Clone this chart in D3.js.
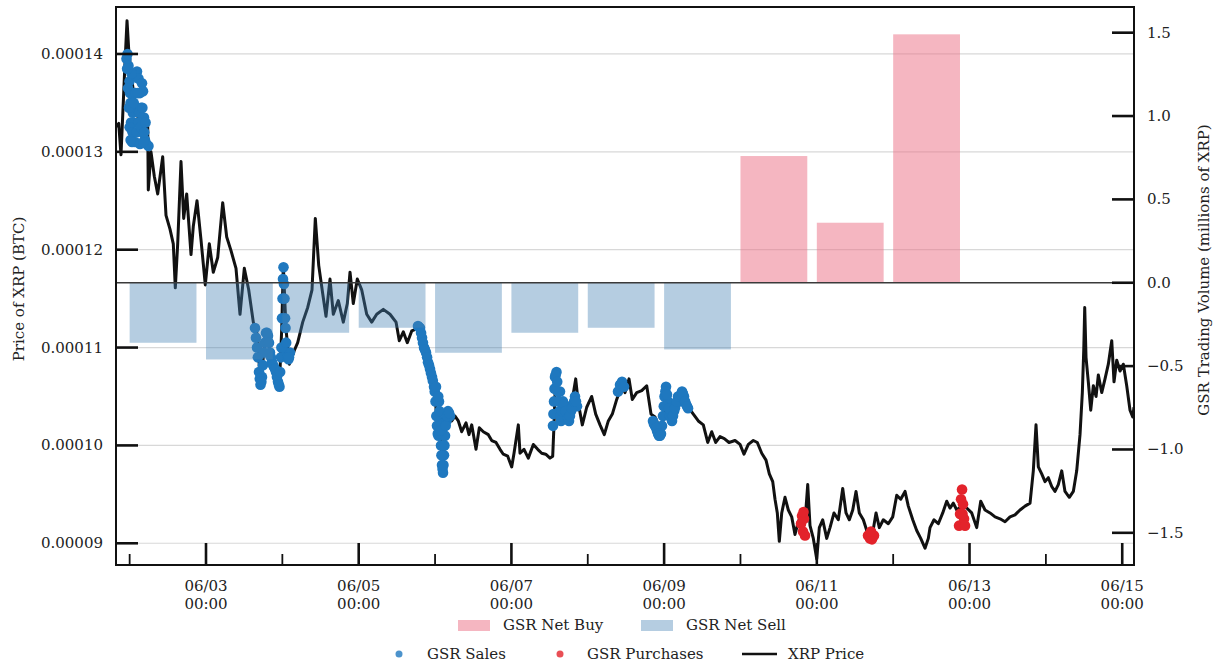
<!DOCTYPE html>
<html><head><meta charset="utf-8">
<script src="https://cdn.jsdelivr.net/npm/d3@7"></script>
<style>
body{margin:0;background:#fff}
svg{display:block}
text{font-family:"DejaVu Serif",serif;fill:#222}
</style>
</head><body>
<svg id="chart" width="1214" height="664"></svg>
<script>
// ---------- DATA ----------
// time base: hours since 2018-06-01 00:00 UTC
const priceHours = [19.71,20.56,21.28,21.82,22.54,23.17,23.70,24.43,25.46,26.53,27.57,28.61,29.67,29.86,30.71,31.75,32.82,34.39,35.43,36.68,37.72,38.35,39.10,40.14,40.99,41.93,43.29,44.01,45.17,46.43,47.78,49.04,50.29,51.68,53.25,54.51,55.86,57.43,58.69,60.04,61.42,62.87,64.25,65.07,66.86,68.12,69.78,71.04,71.80,72.30,73.15,74.18,75.76,76.82,78.40,79.97,81.32,82.36,83.43,84.69,85.72,86.98,88.02,89.59,91.16,92.42,93.27,94.30,95.56,96.94,98.52,100.09,101.66,103.73,105.84,107.73,108.76,110.02,111.28,112.66,114.23,115.27,116.84,117.88,118.95,119.98,120.71,121.56,122.40,123.13,124.17,125.23,126.27,127.31,128.38,129.73,130.67,131.52,132.87,133.91,135.17,136.74,137.81,139.16,140.42,141.45,142.84,144.09,144.82,146.17,146.70,147.96,149.31,150.89,152.27,153.52,154.78,156.13,156.98,157.39,157.92,158.55,159.27,160.63,161.88,162.95,164.21,165.03,166.29,167.67,169.24,170.50,171.85,173.20,174.46,175.72,177.10,178.67,179.71,180.97,182.00,183.39,184.96,186.53,187.88,189.14,190.17,191.24,192.81,193.85,195.42,196.68,198.35,199.61,201.18,202.75,204.32,205.71,206.96,208.22,209.57,210.92,212.40,214.29,215.86,217.11,218.47,220.04,221.30,222.68,224.03,225.07,226.14,226.86,227.58,228.21,228.97,230.00,231.04,232.11,233.14,234.18,235.25,236.29,237.14,237.86,238.90,239.97,240.79,241.85,243.11,244.15,245.40,246.76,248.14,249.18,250.22,251.29,252.32,253.36,254.62,255.69,257.26,258.61,259.65,260.90,262.48,263.86,265.12,266.37,267.73,268.76,270.15,271.40,272.66,274.01,275.05,275.58,276.84,278.19,279.58,280.83,281.87,282.91,283.98,285.55,287.12,288.69,290.26,291.52,292.87,294.44,296.02,297.59,299.16,300.73,302.30,303.87,305.45,307.02,308.05,308.90,309.63,310.69,311.73,312.77,313.84,314.87,315.91,316.98,318.01,319.37,320.63,321.69,322.73,323.46,323.90,324.21,324.62,325.34,326.10,326.92,327.77,328.49,329.56,330.59,331.63,332.70,333.42,334.27,335.31,336.35,337.41,338.45,339.30,339.70];
const priceValues = [1.326e-4,1.329e-4,1.297e-4,1.337e-4,1.391e-4,1.434e-4,1.405e-4,1.380e-4,1.355e-4,1.337e-4,1.318e-4,1.308e-4,1.329e-4,1.261e-4,1.300e-4,1.275e-4,1.257e-4,1.295e-4,1.235e-4,1.221e-4,1.206e-4,1.161e-4,1.206e-4,1.290e-4,1.232e-4,1.257e-4,1.195e-4,1.224e-4,1.250e-4,1.210e-4,1.164e-4,1.206e-4,1.177e-4,1.192e-4,1.248e-4,1.213e-4,1.199e-4,1.181e-4,1.134e-4,1.181e-4,1.159e-4,1.126e-4,1.112e-4,1.061e-4,1.116e-4,1.097e-4,1.083e-4,1.059e-4,1.119e-4,1.184e-4,1.119e-4,1.083e-4,1.097e-4,1.105e-4,1.126e-4,1.141e-4,1.159e-4,1.232e-4,1.184e-4,1.155e-4,1.132e-4,1.170e-4,1.134e-4,1.148e-4,1.126e-4,1.145e-4,1.177e-4,1.145e-4,1.170e-4,1.159e-4,1.134e-4,1.126e-4,1.134e-4,1.139e-4,1.134e-4,1.126e-4,1.107e-4,1.116e-4,1.105e-4,1.117e-4,1.119e-4,1.121e-4,1.097e-4,1.083e-4,1.072e-4,1.058e-4,1.011e-4,1.029e-4,0.971e-4,1.011e-4,1.036e-4,1.025e-4,1.030e-4,1.025e-4,1.014e-4,1.023e-4,1.011e-4,1.021e-4,0.996e-4,1.018e-4,1.014e-4,1.011e-4,1.005e-4,1.003e-4,0.996e-4,0.991e-4,0.989e-4,0.978e-4,0.992e-4,1.021e-4,0.992e-4,0.996e-4,0.987e-4,1.001e-4,0.996e-4,0.992e-4,0.991e-4,0.987e-4,0.989e-4,1.021e-4,1.072e-4,1.061e-4,1.039e-4,1.047e-4,1.029e-4,1.043e-4,1.068e-4,1.043e-4,1.021e-4,1.039e-4,1.050e-4,1.032e-4,1.021e-4,1.011e-4,1.025e-4,1.032e-4,1.047e-4,1.061e-4,1.054e-4,1.068e-4,1.047e-4,1.054e-4,1.056e-4,1.061e-4,1.032e-4,1.029e-4,1.021e-4,1.014e-4,1.058e-4,1.032e-4,1.039e-4,1.050e-4,1.054e-4,1.039e-4,1.032e-4,1.025e-4,1.021e-4,1.003e-4,1.014e-4,1.003e-4,1.009e-4,1.007e-4,1.003e-4,1.005e-4,1.001e-4,0.991e-4,1.001e-4,1.005e-4,1.003e-4,0.992e-4,0.985e-4,0.971e-4,0.963e-4,0.945e-4,0.931e-4,0.902e-4,0.931e-4,0.947e-4,0.934e-4,0.927e-4,0.909e-4,0.922e-4,0.931e-4,0.922e-4,0.960e-4,0.918e-4,0.905e-4,0.884e-4,0.916e-4,0.924e-4,0.905e-4,0.916e-4,0.931e-4,0.924e-4,0.956e-4,0.931e-4,0.924e-4,0.934e-4,0.953e-4,0.931e-4,0.924e-4,0.913e-4,0.905e-4,0.931e-4,0.916e-4,0.924e-4,0.920e-4,0.927e-4,0.949e-4,0.945e-4,0.953e-4,0.938e-4,0.924e-4,0.913e-4,0.905e-4,0.895e-4,0.905e-4,0.916e-4,0.924e-4,0.920e-4,0.931e-4,0.943e-4,0.936e-4,0.941e-4,0.934e-4,0.938e-4,0.936e-4,0.931e-4,0.916e-4,0.943e-4,0.934e-4,0.931e-4,0.927e-4,0.925e-4,0.922e-4,0.927e-4,0.929e-4,0.934e-4,0.938e-4,0.941e-4,0.974e-4,1.021e-4,0.978e-4,0.971e-4,0.963e-4,0.967e-4,0.958e-4,0.953e-4,0.960e-4,0.974e-4,0.953e-4,0.947e-4,0.953e-4,0.974e-4,1.011e-4,1.054e-4,1.097e-4,1.141e-4,1.090e-4,1.065e-4,1.036e-4,1.061e-4,1.050e-4,1.072e-4,1.054e-4,1.068e-4,1.083e-4,1.107e-4,1.065e-4,1.087e-4,1.076e-4,1.083e-4,1.061e-4,1.036e-4,1.029e-4,1.039e-4];

const salesHours = [23.01,23.32,23.64,23.95,24.27,24.43,24.74,25.21,25.53,25.84,26.31,26.78,27.25,27.57,27.88,28.20,28.51,28.82,29.30,29.92,25.68,27.25,24.10,25.00,26.00,26.80,27.90,28.30,24.60,
 23.20,23.50,23.80,24.00,24.30,24.90,25.30,25.90,26.20,26.60,27.00,27.40,28.00,28.60,29.00,
 63.40,64.03,64.66,65.13,65.60,66.23,66.86,67.49,68.12,68.75,69.38,70.00,70.63,71.10,71.57,71.89,72.20,72.36,72.68,72.99,73.46,73.93,74.40,
 63.70,64.30,64.90,65.40,65.90,66.50,67.20,67.80,68.40,69.10,69.70,70.30,70.90,71.30,71.70,72.05,72.50,72.85,73.20,73.70,74.10,
 114.64,115.27,115.90,116.53,117.16,117.78,118.41,119.04,119.67,120.14,120.61,121.08,121.56,121.87,122.18,122.50,122.81,123.13,123.60,124.07,124.70,121.24,
 114.90,115.60,116.20,116.80,117.50,118.10,118.70,119.30,119.90,120.40,120.85,121.40,121.70,122.00,122.35,122.65,122.95,123.35,123.80,124.40,121.00,120.30,
 157.07,157.39,157.70,158.17,158.65,159.12,159.59,160.22,160.85,161.48,162.11,162.74,163.37,163.99,164.62,159.27,
 157.20,157.55,157.90,158.40,158.90,159.40,159.90,160.50,161.10,161.80,162.40,163.00,163.70,164.30,
 177.51,178.14,178.77,179.40,
 188.51,189.14,189.77,190.39,191.02,191.65,192.13,192.60,193.23,193.85,194.48,195.11,195.74,196.37,197.00,197.63,198.25,198.88,199.51,191.33,
 188.80,189.50,190.10,190.70,191.90,192.40,192.90,193.50,194.20,194.80,195.40,196.00,196.70,197.30,197.90,198.60,199.20];
const salesPrices = [1.395e-4,1.400e-4,1.388e-4,1.372e-4,1.350e-4,1.330e-4,1.310e-4,1.330e-4,1.360e-4,1.378e-4,1.382e-4,1.375e-4,1.360e-4,1.345e-4,1.370e-4,1.362e-4,1.335e-4,1.312e-4,1.308e-4,1.306e-4,1.310e-4,1.308e-4,1.360e-4,1.340e-4,1.345e-4,1.330e-4,1.320e-4,1.310e-4,1.380e-4,
 1.385e-4,1.365e-4,1.345e-4,1.325e-4,1.312e-4,1.320e-4,1.350e-4,1.360e-4,1.320e-4,1.360e-4,1.340e-4,1.325e-4,1.345e-4,1.320e-4,1.330e-4,
 1.120e-4,1.100e-4,1.075e-4,1.062e-4,1.070e-4,1.095e-4,1.115e-4,1.112e-4,1.095e-4,1.085e-4,1.080e-4,1.075e-4,1.065e-4,1.060e-4,1.090e-4,1.130e-4,1.170e-4,1.182e-4,1.150e-4,1.120e-4,1.095e-4,1.088e-4,1.095e-4,
 1.110e-4,1.090e-4,1.068e-4,1.065e-4,1.082e-4,1.105e-4,1.115e-4,1.105e-4,1.090e-4,1.082e-4,1.078e-4,1.070e-4,1.062e-4,1.075e-4,1.100e-4,1.150e-4,1.165e-4,1.130e-4,1.105e-4,1.090e-4,1.090e-4,
 1.122e-4,1.120e-4,1.110e-4,1.100e-4,1.095e-4,1.085e-4,1.078e-4,1.070e-4,1.060e-4,1.045e-4,1.020e-4,1.010e-4,1.025e-4,1.000e-4,0.980e-4,0.972e-4,0.990e-4,1.010e-4,1.025e-4,1.035e-4,1.030e-4,1.045e-4,
 1.121e-4,1.115e-4,1.105e-4,1.098e-4,1.090e-4,1.082e-4,1.074e-4,1.066e-4,1.055e-4,1.030e-4,1.012e-4,1.035e-4,1.015e-4,0.990e-4,0.976e-4,0.980e-4,1.000e-4,1.020e-4,1.030e-4,1.033e-4,1.050e-4,1.060e-4,
 1.020e-4,1.045e-4,1.070e-4,1.075e-4,1.055e-4,1.035e-4,1.025e-4,1.045e-4,1.040e-4,1.030e-4,1.025e-4,1.035e-4,1.042e-4,1.050e-4,1.040e-4,1.055e-4,
 1.032e-4,1.058e-4,1.072e-4,1.065e-4,1.045e-4,1.030e-4,1.035e-4,1.042e-4,1.035e-4,1.028e-4,1.030e-4,1.038e-4,1.045e-4,1.045e-4,
 1.055e-4,1.062e-4,1.065e-4,1.060e-4,
 1.025e-4,1.020e-4,1.015e-4,1.010e-4,1.012e-4,1.030e-4,1.050e-4,1.060e-4,1.045e-4,1.030e-4,1.025e-4,1.035e-4,1.042e-4,1.050e-4,1.048e-4,1.055e-4,1.050e-4,1.042e-4,1.038e-4,1.020e-4,
 1.022e-4,1.018e-4,1.012e-4,1.010e-4,1.040e-4,1.055e-4,1.052e-4,1.038e-4,1.028e-4,1.030e-4,1.038e-4,1.045e-4,1.050e-4,1.052e-4,1.053e-4,1.045e-4,1.040e-4];

const purchaseHours = [235.03,235.35,235.66,235.97,236.29,235.82, 256.09,256.72,257.35,257.97,257.04, 284.71,285.02,285.33,285.65,285.96,286.28,286.59,285.80];
const purchasePrices = [0.920e-4,0.928e-4,0.912e-4,0.925e-4,0.908e-4,0.932e-4, 0.908e-4,0.905e-4,0.904e-4,0.908e-4,0.912e-4, 0.918e-4,0.930e-4,0.945e-4,0.955e-4,0.940e-4,0.925e-4,0.918e-4,0.930e-4];

const barDays = ["2018-06-02","2018-06-03","2018-06-04","2018-06-05","2018-06-06","2018-06-07","2018-06-08","2018-06-09","2018-06-10","2018-06-11","2018-06-12"];
const barVolumes = [-0.36,-0.46,-0.30,-0.27,-0.42,-0.30,-0.27,-0.40,0.76,0.36,1.49];

const leftTicks = [0.00009,0.00010,0.00011,0.00012,0.00013,0.00014];
const rightTicks = [-1.5,-1.0,-0.5,0.0,0.5,1.0,1.5];

// ---------- LAYOUT ----------
const L = 116, R = 1134, T = 7, B = 565;
const svg = d3.select("#chart");
const toDate = h => new Date(Date.UTC(2018,5,1) + h*3600e3);

const x = d3.scaleUtc().domain(d3.extent(priceHours).map(toDate)).range([L, R]);
const y = d3.scaleLinear().domain([0.00008778, 0.0001448]).range([B, T]);
const y2 = d3.scaleLinear().domain([-1.693, 1.654]).range([B, T]);

svg.append("defs").append("clipPath").attr("id","clip")
  .append("rect").attr("x",L).attr("y",T).attr("width",R-L).attr("height",B-T);

const plot = svg.append("g").attr("clip-path","url(#clip)");

// gridlines
plot.selectAll("line.grid").data(leftTicks).join("line")
  .attr("x1",L).attr("x2",R).attr("y1",d=>y(d)).attr("y2",d=>y(d))
  .attr("stroke","#d8d8d8").attr("stroke-width",1.2);

// price line
const priceData = priceHours.map((h,i)=>({t:toDate(h), v:priceValues[i]}));
plot.append("path").datum(priceData)
  .attr("d", d3.line().x(d=>x(d.t)).y(d=>y(d.v)))
  .attr("fill","none").attr("stroke","#111").attr("stroke-width",3).attr("stroke-linejoin","round");

// sales
plot.selectAll("circle.sale").data(salesHours.map((h,i)=>({t:toDate(h),v:salesPrices[i]}))).join("circle")
  .attr("cx",d=>x(d.t)).attr("cy",d=>y(d.v)).attr("r",5.3).attr("fill","#1f78bf");
// purchases
plot.selectAll("circle.buy").data(purchaseHours.map((h,i)=>({t:toDate(h),v:purchasePrices[i]}))).join("circle")
  .attr("cx",d=>x(d.t)).attr("cy",d=>y(d.v)).attr("r",5.3).attr("fill","#e3232b");

// bars (secondary axis, drawn on top)
const barW = d => x(d3.utcHour.offset(d, 21.6)) - x(d);
plot.selectAll("rect.bar").data(barDays.map((s,i)=>({t:new Date(s+"T00:00:00Z"), v:barVolumes[i]}))).join("rect")
  .attr("x",d=>x(d.t)).attr("width",d=>barW(d.t))
  .attr("y",d=>y2(Math.max(0,d.v))).attr("height",d=>Math.abs(y2(d.v)-y2(0)))
  .attr("fill",d=>d.v>0?"rgb(236,110,132)":"rgb(70,130,180)")
  .attr("fill-opacity",d=>d.v>0?0.5:0.4);

// zero line
plot.append("line").attr("x1",L).attr("x2",R).attr("y1",y2(0)).attr("y2",y2(0))
  .attr("stroke","#3a3a3a").attr("stroke-width",1.3);

// spines
svg.append("rect").attr("x",L).attr("y",T).attr("width",R-L).attr("height",B-T)
  .attr("fill","none").attr("stroke","#111").attr("stroke-width",2);

// left ticks
const TL = 22;
svg.selectAll("line.lt").data(leftTicks).join("line")
  .attr("x1",L).attr("x2",L+TL).attr("y1",d=>y(d)).attr("y2",d=>y(d))
  .attr("stroke","#111").attr("stroke-width",2.6);
svg.selectAll("text.lt").data(leftTicks).join("text")
  .attr("x",103).attr("y",d=>y(d)+5).attr("text-anchor","end").attr("font-size",15)
  .text(d=>d3.format(".5f")(d));

// right ticks
svg.selectAll("line.rt").data(rightTicks).join("line")
  .attr("x1",R-TL).attr("x2",R).attr("y1",d=>y2(d)).attr("y2",d=>y2(d))
  .attr("stroke","#111").attr("stroke-width",2.6);
svg.selectAll("text.rt").data(rightTicks).join("text")
  .attr("x",1147).attr("y",d=>y2(d)+5).attr("text-anchor","start").attr("font-size",15)
  .text(d=>d3.format(".1f")(d));

// x ticks
const dom = x.domain();
const major = d3.utcDay.every(2).range(dom[0], dom[1]);
const minor = d3.utcDay.range(dom[0], dom[1]).filter(d => !major.some(m=>+m===+d));
svg.selectAll("line.xmaj").data(major).join("line")
  .attr("x1",d=>x(d)).attr("x2",d=>x(d)).attr("y1",B).attr("y2",B-TL)
  .attr("stroke","#111").attr("stroke-width",2.6);
svg.selectAll("line.xmin").data(minor).join("line")
  .attr("x1",d=>x(d)).attr("x2",d=>x(d)).attr("y1",B).attr("y2",B-11)
  .attr("stroke","#111").attr("stroke-width",1.8);
const xl = svg.selectAll("g.xl").data(major).join("g").attr("transform",d=>`translate(${x(d)},0)`);
xl.append("text").attr("y",591).attr("text-anchor","middle").attr("font-size",15).text(d3.utcFormat("%m/%d"));
xl.append("text").attr("y",609).attr("text-anchor","middle").attr("font-size",15).text(d3.utcFormat("%H:%M"));

// axis titles
svg.append("text").attr("transform","translate(24,289) rotate(-90)").attr("text-anchor","middle")
  .attr("font-size",15).text("Price of XRP (BTC)");
svg.append("text").attr("transform","translate(1209,270) rotate(-90)").attr("text-anchor","middle")
  .attr("font-size",15).text("GSR Trading Volume (millions of XRP)");

// legend
const lg = svg.append("g");
lg.append("rect").attr("x",458).attr("y",620).attr("width",32).attr("height",11).attr("fill","rgb(236,110,132)").attr("fill-opacity",0.5);
lg.append("text").attr("x",503).attr("y",630).attr("font-size",15).text("GSR Net Buy");
lg.append("rect").attr("x",641).attr("y",620).attr("width",32).attr("height",11).attr("fill","rgb(70,130,180)").attr("fill-opacity",0.4);
lg.append("text").attr("x",686).attr("y",630).attr("font-size",15).text("GSR Net Sell");
lg.append("circle").attr("cx",399).attr("cy",654).attr("r",3.5).attr("fill","#1f78bf").attr("fill-opacity",0.8);
lg.append("text").attr("x",427).attr("y",659).attr("font-size",15).text("GSR Sales");
lg.append("circle").attr("cx",560).attr("cy",654).attr("r",3.5).attr("fill","#e3232b").attr("fill-opacity",0.8);
lg.append("text").attr("x",587).attr("y",659).attr("font-size",15).text("GSR Purchases");
lg.append("line").attr("x1",742).attr("x2",777).attr("y1",654).attr("y2",654).attr("stroke","#111").attr("stroke-width",2.6);
lg.append("text").attr("x",788).attr("y",659).attr("font-size",15).text("XRP Price");
</script>
</body></html>
